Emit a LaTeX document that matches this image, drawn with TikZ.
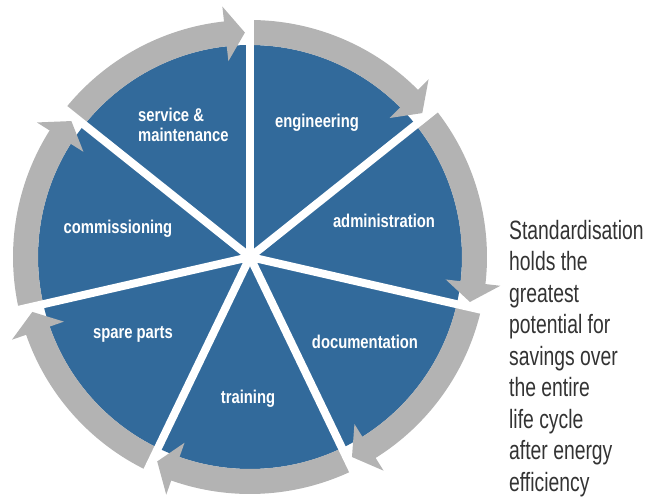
\documentclass[tikz,border=0pt]{standalone}
\usepackage{fontspec}
\newfontfamily\labfont[FakeStretch=0.8]{Liberation Sans}
\newfontfamily\txtfont[FakeStretch=0.73]{Liberation Sans}
\definecolor{segblue}{HTML}{326A9B}
\definecolor{ringgray}{HTML}{B3B3B3}
\definecolor{txtgray}{HTML}{333333}
\begin{document}
\begin{tikzpicture}[
  seglabel/.style={text=white, font=\labfont\bfseries\fontsize{18.5}{20}\selectfont, inner sep=0pt},
  sidetext/.style={text=txtgray, font=\txtfont\fontsize{26.5}{31.5}\selectfont, inner sep=0pt, align=left},
  ringpart/.style={fill=ringgray},
  gapline/.style={draw=white, line width=8pt}
]
\useasboundingbox (0,0) rectangle (651pt,499pt);
\coordinate (C) at (250pt,242pt);
\begin{scope}[shift={(C)}]
  \fill[segblue] (0,0) circle[radius=212pt];
  \foreach \k in {0,...,6}{
    \pgfmathsetmacro\a{90-51.428571*\k}
    \pgfmathsetmacro\b{\a-51.428571}
    \pgfmathsetmacro\e{\b+6}
    \pgfmathsetmacro\f{\b+6.3}
    \pgfmathsetmacro\t{\b+1.3}
    \path[ringpart] (\a:237pt) arc[start angle=\a, end angle=\e, radius=237pt]
      -- (\e:212pt) arc[start angle=\e, end angle=\a, radius=212pt] -- cycle;
    \path[ringpart] (\f:252pt) -- (\t:224.5pt) -- (\f:197pt) -- cycle;
  }
  \foreach \k in {0,...,6}{
    \pgfmathsetmacro\a{90-51.428571*\k}
    \path[gapline] (0,0) -- (\a:245pt);
  }
\end{scope}
\node[seglabel] (eng) at (317pt,376pt) {engineering};
\node[seglabel] (adm) at (384pt,278pt) {administration};
\node[seglabel] (doc) at (365pt,157pt) {documentation};
\node[seglabel] (trn) at (248pt,100pt) {training};
\node[seglabel] (spp) at (133pt,165pt) {spare parts};
\node[seglabel] (com) at (118pt,270pt) {commissioning};
\node[seglabel, align=left, anchor=west] (svc) at (138pt,374pt) {service \&\\maintenance};
\node[sidetext, anchor=north west] (txt) at (509pt,279pt) {Standardisation\\holds the\\greatest\\potential for\\savings over\\the entire\\life cycle\\after energy\\efficiency};
\end{tikzpicture}
\end{document}
